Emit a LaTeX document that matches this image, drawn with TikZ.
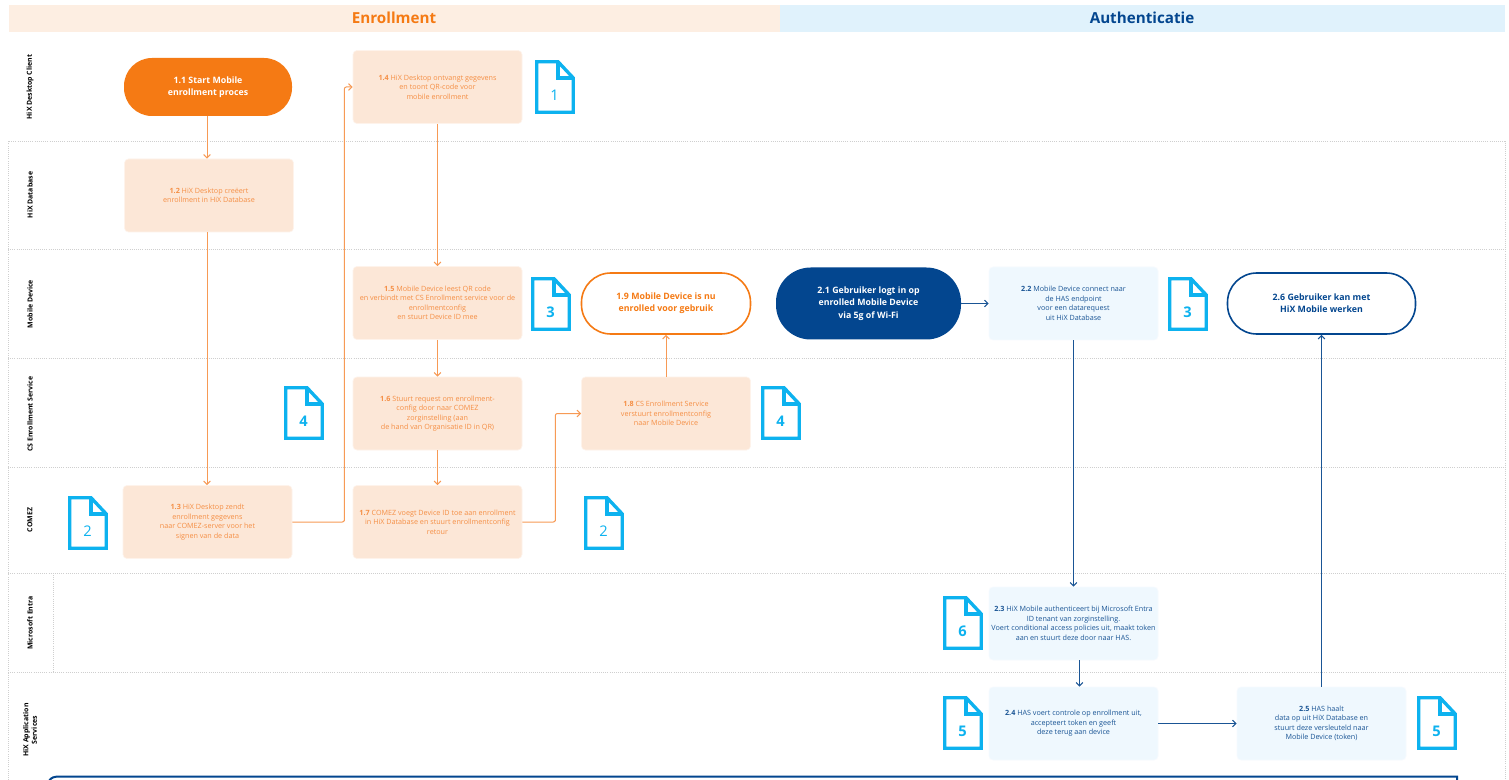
\documentclass[tikz,border=0pt]{standalone}
\usepackage{fontspec}
\setmainfont{Open Sans}
\usetikzlibrary{arrows.meta,calc}
\definecolor{orangeD}{HTML}{F57A14}
\definecolor{orangeT}{HTML}{F58F45}
\definecolor{orangeF}{HTML}{FCE7D7}
\definecolor{orangeH}{HTML}{FDEEE2}
\definecolor{orangeL}{HTML}{F79A55}
\definecolor{blueD}{HTML}{03468F}
\definecolor{blueT}{HTML}{1A5595}
\definecolor{blueF}{HTML}{EFF8FE}
\definecolor{blueH}{HTML}{E0F2FC}
\definecolor{cyanD}{HTML}{0DB2EF}
\definecolor{laneC}{HTML}{CFCFCF}
\tikzset{
  x=0.75pt,y=-0.75pt,
  sz/.style 2 args={minimum width=#1*0.75pt,minimum height=#2*0.75pt},
  anyshape/.style={inner sep=0pt,align=center,font=\fontsize{5.4pt}{7.15pt}\selectfont},
  obox/.style={anyshape,sz={169}{73},rounded corners=3pt,fill=orangeF,draw=orangeF!50!white,line width=.5pt,text=orangeT},
  bbox/.style={anyshape,sz={169}{73},rounded corners=3pt,fill=blueF,draw=blueF!50!white,line width=.5pt,text=blueT},
  pill/.style={anyshape,rounded corners=20pt,font=\fontsize{6.6pt}{9.2pt}\selectfont\bfseries},
  lane/.style={draw=laneC,line width=.6pt,densely dotted},
  lanetext/.style={rotate=90,align=center,font=\fontsize{5.2pt}{6.3pt}\selectfont\bfseries,text=black,inner sep=0pt},
  oarrow/.style={draw=orangeL,line width=.75pt,-{Straight Barb[length=2.6pt,width=5pt]},rounded corners=1.5pt},
  barrow/.style={draw=blueT,line width=.75pt,-{Straight Barb[length=2.6pt,width=5pt]},rounded corners=1.5pt},
  docline/.style={draw=cyanD,line width=2.5pt,fill=white,miter limit=10},
  doctext/.style={text=cyanD,inner sep=0pt},
  head/.style={inner sep=0pt,font=\fontsize{11.4pt}{12pt}\selectfont\bfseries},
}
\newcommand{\docicon}[5][]{%
  \draw[docline] (#3+1.7,#4+1.7) -- (#3+23,#4+1.7) -- (#3+38.3,#4+18) -- (#3+38.3,#4+52.3) -- (#3+1.7,#4+52.3) -- cycle;
  \draw[docline,fill=none] (#3+23,#4+1.7) -- (#3+23,#4+18) -- (#3+38.3,#4+18);
  \node[doctext,font=\fontsize{11pt}{11pt}\selectfont#1] (#2) at (#3+19.5,#4+35) {#5};
}
\begin{document}
\begin{tikzpicture}
\useasboundingbox (0,0) rectangle (1509,780);
\fill[white] (0,0) rectangle (1509,780);
% headers
\fill[orangeH] (9,5) rectangle (780,32);
\fill[blueH] (780,5) rectangle (1505,32);
\node[head,text=orangeD] (henr) at (394,18) {Enrollment};
\node[head,text=blueD] (haut) at (1142,18) {Authenticatie};
% lanes
\draw[lane] (8,780) -- (8,141) -- (1505,141) -- (1505,780);
\foreach \yy in {249,358,467,573,672} \draw[lane] (8,\yy) -- (1505,\yy);
\draw[lane] (53,573) -- (53,672);
\node[lanetext] (l1) at (30,87) {HiX Desktop Client};
\node[lanetext] (l2) at (30,195) {HiX Database};
\node[lanetext] (l3) at (30,304) {Mobile Device};
\node[lanetext] (l4) at (30,414) {CS Enrollment Service};
\node[lanetext] (l5) at (30,520) {COMEZ};
\node[lanetext] (l6) at (30,623) {Microsoft Entra};
\node[lanetext] (l7) at (30,730) {HiX Application\\Services};
% enrollment nodes
\node[pill,sz={168}{58},rounded corners=21pt,fill=orangeD,text=white] (n11) at (208,87) {1.1 Start Mobile\\enrollment proces};
\node[obox] (n12) at (209,195.5) {\textbf{1.2} HiX Desktop creëert\\enrollment in HiX Database};
\node[obox] (n13) at (207.5,522) {\textbf{1.3} HiX Desktop zendt\\enrollment gegevens\\naar COMEZ-server voor het\\signen van de data};
\node[obox] (n14) at (437.5,87) {\textbf{1.4} HiX Desktop ontvangt gegevens\\en toont QR-code voor\\mobile enrollment};
\node[obox] (n15) at (437.5,303) {\textbf{1.5} Mobile Device leest QR code\\en verbindt met CS Enrollment service voor de\\enrollmentconfig\\en stuurt Device ID mee};
\node[obox] (n16) at (437.5,413.5) {\textbf{1.6} Stuurt request om enrollment-\\config door naar COMEZ\\zorginstelling (aan\\de hand van Organisatie ID in QR)};
\node[obox] (n17) at (437.5,522) {\textbf{1.7} COMEZ voegt Device ID toe aan enrollment\\in HiX Database en stuurt enrollmentconfig\\retour};
\node[obox] (n18) at (666,413.5) {\textbf{1.8} CS Enrollment Service\\verstuurt enrollmentconfig\\naar Mobile Device};
\node[pill,sz={169}{61},rounded corners=22pt,draw=orangeD,line width=1.2pt,fill=white,text=orangeD] (n19) at (666,303.5) {1.9 Mobile Device is nu\\enrolled voor gebruik};
% authenticatie nodes
\node[pill,sz={185}{72},rounded corners=26pt,fill=blueD,text=white] (n21) at (868.5,303.5) {2.1 Gebruiker logt in op\\enrolled Mobile Device\\via 5g of Wi-Fi};
\node[bbox] (n22) at (1073.5,303.5) {\textbf{2.2} Mobile Device connect naar\\de HAS endpoint\\voor een datarequest\\uit HiX Database};
\node[bbox] (n23) at (1073.5,623.5) {\textbf{2.3} HiX Mobile authenticeert bij Microsoft Entra\\ID tenant van zorginstelling.\\Voert conditional access policies uit, maakt token\\aan en stuurt deze door naar HAS.};
\node[bbox] (n24) at (1073.5,723.5) {\textbf{2.4} HAS voert controle op enrollment uit,\\accepteert token en geeft\\deze terug aan device};
\node[bbox] (n25) at (1321.5,723.5) {\textbf{2.5} HAS haalt\\data op uit HiX Database en\\stuurt deze versleuteld naar\\Mobile Device (token)};
\node[pill,sz={188}{61},rounded corners=22pt,draw=blueD,line width=1.2pt,fill=white,text=blueD] (n26) at (1321.5,303.5) {2.6 Gebruiker kan met\\HiX Mobile werken};
% documents
\docicon{d1}{535}{60}{1}
\docicon[\bfseries]{d3a}{531}{277}{3}
\docicon[\bfseries]{d4a}{284}{386}{4}
\docicon[\bfseries]{d4b}{761}{386}{4}
\docicon{d2a}{68}{496}{2}
\docicon{d2b}{584}{496}{2}
\docicon[\bfseries]{d3b}{1168}{277}{3}
\docicon[\bfseries]{d6}{943}{596}{6}
\docicon[\bfseries]{d5a}{943}{696}{5}
\docicon[\bfseries]{d5b}{1417}{696}{5}
% connectors
\draw[oarrow] ([xshift=-.75pt]n11.south) -- ([xshift=-.75pt]n11.south |- n12.north);
\draw[oarrow] ([xshift=-1.5pt]n12.south) -- ([xshift=-1.5pt]n12.south |- n13.north);
\draw[oarrow] (n13.east) -| ($(n13.east)+(52,0)$) |- (n14.west);
\draw[oarrow] (n14.south) -- (n15.north);
\draw[oarrow] (n15.south) -- (n16.north);
\draw[oarrow] (n16.south) -- (n17.north);
\draw[oarrow] (n17.east) -| ($(n17.east)+(33,0)$) |- (n18.west);
\draw[oarrow] (n18.north) -- (n19.south);
\draw[barrow] (n21.east) -- (n22.west);
\draw[barrow] (n22.south) -- (n23.north);
\draw[barrow] ([xshift=4.5pt]n23.south) -- ([xshift=4.5pt]n24.north);
\draw[barrow] (n24.east) -- (n25.west);
\draw[barrow] (n25.north) -- (n26.south);
% bottom panel
\draw[draw=blueD,line width=1.5pt] (49,781) .. controls (51,777.5) and (54,776.5) .. (60,776.5) -- (1457,776.5) -- (1457,781);
\end{tikzpicture}
\end{document}
